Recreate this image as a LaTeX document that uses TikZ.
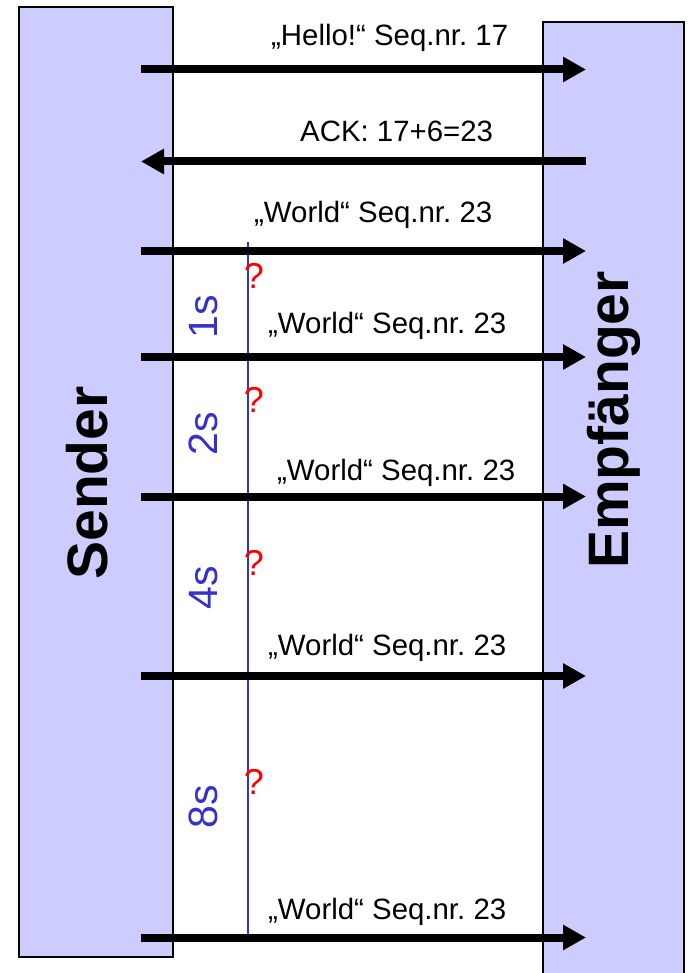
\documentclass[tikz,border=0pt]{standalone}
\usepackage{fontspec}
\setmainfont{Liberation Sans}
\usetikzlibrary{arrows.meta}
\definecolor{boxfill}{RGB}{204,204,255}
\definecolor{timeblue}{RGB}{51,51,204}
\frenchspacing
\begin{document}
\begin{tikzpicture}[x=1pt,y=-1pt,
  party/.style={draw=black, line width=2pt, fill=boxfill, inner sep=0pt},
  msg/.style={line width=8pt, -{Triangle[length=23pt,width=24pt]}},
  msgtext/.style={anchor=base west, inner sep=0pt, font=\fontsize{29.4}{34}\selectfont},
  partytext/.style={rotate=90, anchor=base, inner sep=0pt, font=\fontsize{57}{66}\selectfont\bfseries},
  timetext/.style={rotate=90, anchor=base, inner sep=0pt, text=timeblue, font=\fontsize{41}{48}\selectfont},
  qmark/.style={anchor=base, inner sep=0pt, text=red, font=\fontsize{36}{42}\selectfont},
  timeline/.style={draw=timeblue, line width=2pt}]
\useasboundingbox (0,0) rectangle (687,973);
\clip (0,0) rectangle (687,973);
\fill[white] (0,0) rectangle (687,973);

% parties
\node[party, minimum width=154pt, minimum height=950pt] (senderbox) at (96,482) {};
\node[party, minimum width=141pt, minimum height=978pt] (empfbox) at (613.5,511) {};
\node[partytext] (sender) at (107,483) {Sender};
\node[partytext] (empf) at (628,420) {Empfänger};

% timeline
\coordinate (tltop) at (248,242);
\coordinate (tlbot) at (248,937);
\draw[timeline] (tltop) -- (tlbot);

% time labels
\node[timetext] (t1) at (217,317) {1s};
\node[timetext] (t2) at (217,434) {2s};
\node[timetext] (t4) at (217,588) {4s};
\node[timetext] (t8) at (217,807) {8s};

% question marks
\node[qmark] (q1) at (254,288) {?};
\node[qmark] (q2) at (254,412) {?};
\node[qmark] (q3) at (254,575) {?};
\node[qmark] (q4) at (254,794) {?};

% arrow end points
\foreach \i/\y in {1/69.5,2/161.5,3/251,4/357,5/496.5,6/676,7/937.5}{
  \coordinate (s\i) at (141,\y);
  \coordinate (e\i) at (586,\y);
}
\draw[msg] (s1) -- (e1);
\draw[msg] (e2) -- (s2);
\draw[msg] (s3) -- (e3);
\draw[msg] (s4) -- (e4);
\draw[msg] (s5) -- (e5);
\draw[msg] (s6) -- (e6);
\draw[msg] (s7) -- (e7);

% message texts
\node[msgtext] (m1) at (271,46) {„Hello!“ Seq.nr. 17};
\node[msgtext] (m2) at (300,142) {ACK: 17+6=23};
\node[msgtext] (m3) at (254,223) {„World“ Seq.nr. 23};
\node[msgtext] (m4) at (268,333) {„World“ Seq.nr. 23};
\node[msgtext] (m5) at (277,480) {„World“ Seq.nr. 23};
\node[msgtext] (m6) at (268,655) {„World“ Seq.nr. 23};
\node[msgtext] (m7) at (268,919) {„World“ Seq.nr. 23};
\end{tikzpicture}
\end{document}
